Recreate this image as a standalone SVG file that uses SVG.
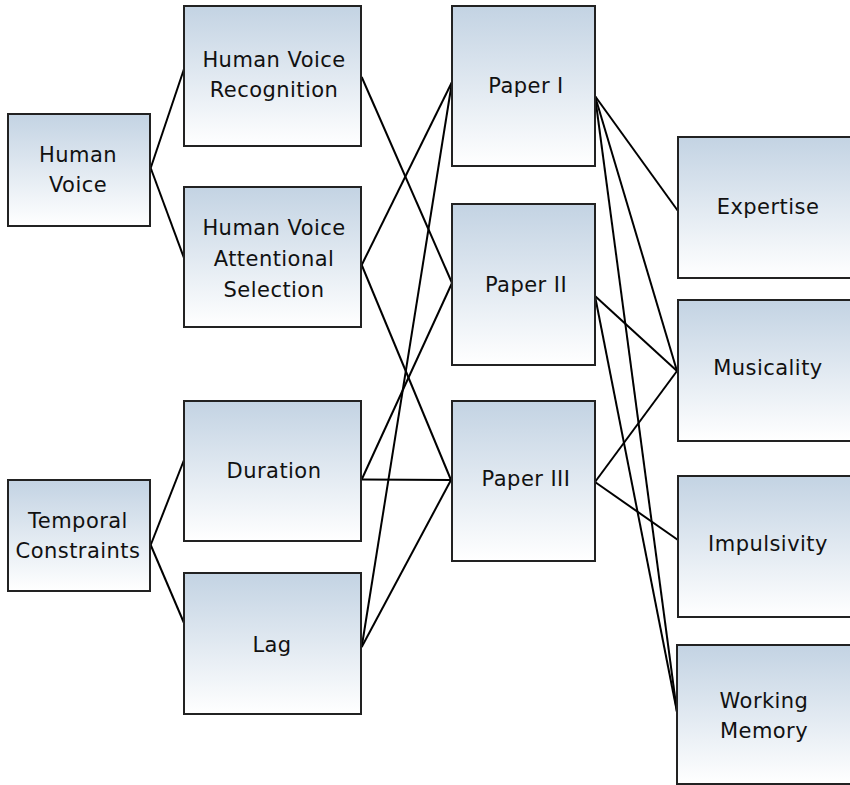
<svg xmlns="http://www.w3.org/2000/svg" width="850" height="785" viewBox="0 0 850 785">
<defs>
<linearGradient id="g" x1="0" y1="0" x2="0" y2="1">
<stop offset="0" stop-color="#c3d3e3"/>
<stop offset="1" stop-color="#ffffff"/>
</linearGradient>
<style>
.box{fill:url(#g);stroke:#222;stroke-width:2}
.t{font-family:"DejaVu Sans","Verdana",sans-serif;font-size:21px;letter-spacing:0.45px;fill:#111;text-anchor:middle}
.c line{stroke:#000;stroke-width:2;fill:none}
</style>
</defs>
<rect width="850" height="785" fill="#fff"/>
<g class="c" id="connectors">
<line x1="150.7" y1="168" x2="184" y2="69"/>
<line x1="150.7" y1="168" x2="184" y2="258"/>
<line x1="150.7" y1="545" x2="184" y2="460"/>
<line x1="150.7" y1="545" x2="184" y2="623"/>
<line x1="361.7" y1="77" x2="452" y2="283"/>
<line x1="361.7" y1="265" x2="452" y2="82"/>
<line x1="361.7" y1="265" x2="451" y2="480"/>
<line x1="361.7" y1="479.5" x2="452" y2="283"/>
<line x1="361.7" y1="479.5" x2="451" y2="480"/>
<line x1="361.7" y1="647" x2="452" y2="82"/>
<line x1="361.7" y1="647" x2="451" y2="480"/>
<line x1="595" y1="96" x2="678" y2="211"/>
<line x1="595" y1="96" x2="677" y2="371"/>
<line x1="595" y1="96" x2="677" y2="712"/>
<line x1="595" y1="296" x2="677" y2="371"/>
<line x1="595" y1="296" x2="677" y2="712"/>
<line x1="595" y1="482" x2="677" y2="371"/>
<line x1="595" y1="482" x2="678" y2="540"/>
</g>
<g id="human-voice"><rect class="box" x="8" y="114" width="142" height="112"/><text class="t" x="78" y="162">Human</text><text class="t" x="78" y="192">Voice</text></g>
<g id="temporal-constraints"><rect class="box" x="8" y="480" width="142" height="111"/><text class="t" x="78" y="528">Temporal</text><text class="t" x="78" y="558">Constraints</text></g>
<g id="hv-recognition"><rect class="box" x="184" y="6" width="177" height="140"/><text class="t" x="274" y="67">Human Voice</text><text class="t" x="274" y="97">Recognition</text></g>
<g id="hv-attentional"><rect class="box" x="184" y="187" width="177" height="140"/><text class="t" x="274" y="235">Human Voice</text><text class="t" x="274" y="266">Attentional</text><text class="t" x="274" y="297">Selection</text></g>
<g id="duration"><rect class="box" x="184" y="401" width="177" height="140"/><text class="t" x="274" y="478">Duration</text></g>
<g id="lag"><rect class="box" x="184" y="573" width="177" height="141"/><text class="t" x="272" y="652">Lag</text></g>
<g id="paper-1"><rect class="box" x="452" y="6" width="143" height="160"/><text class="t" x="526" y="93">Paper I</text></g>
<g id="paper-2"><rect class="box" x="452" y="204" width="143" height="161"/><text class="t" x="526" y="292">Paper II</text></g>
<g id="paper-3"><rect class="box" x="452" y="401" width="143" height="160"/><text class="t" x="526" y="486">Paper III</text></g>
<g id="expertise"><rect class="box" x="678" y="137" width="190" height="141"/><text class="t" x="768" y="214">Expertise</text></g>
<g id="musicality"><rect class="box" x="678" y="300" width="190" height="141"/><text class="t" x="768" y="375">Musicality</text></g>
<g id="impulsivity"><rect class="box" x="678" y="476" width="190" height="141"/><text class="t" x="768" y="551">Impulsivity</text></g>
<g id="working-memory"><rect class="box" x="677" y="645" width="190" height="139"/><text class="t" x="764" y="708">Working</text><text class="t" x="764" y="738">Memory</text></g>
</svg>
